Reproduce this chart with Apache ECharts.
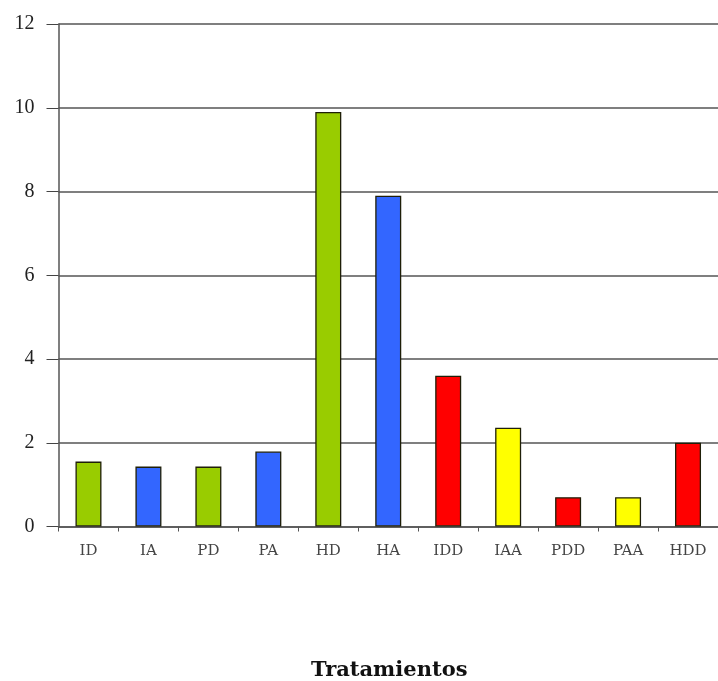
<!DOCTYPE html>
<html><head><meta charset="utf-8">
<script src="https://cdn.jsdelivr.net/npm/echarts@6/dist/echarts.min.js"></script>
<style>html,body{margin:0;padding:0;background:#fff}#c{width:718px;height:681px}</style>
</head><body><div id="c"></div>
<script>
const categories = ['ID','IA','PD','PA','HD','HA','IDD','IAA','PDD','PAA','HDD'];
const values = [1.55, 1.43, 1.43, 1.79, 9.9, 7.9, 3.6, 2.36, 0.7, 0.7, 2.0];
const barColors = ['#99cc00','#3366ff','#99cc00','#3366ff','#99cc00','#3366ff','#ff0000','#ffff00','#ff0000','#ffff00','#ff0000'];
const yTicks = [0, 2, 4, 6, 8, 10, 12];
const xTitle = 'Tratamientos';

const chart = echarts.init(document.getElementById('c'), null, {renderer:'canvas'});
chart.setOption({
  animation: false,
  backgroundColor: '#fff',
  grid: {left: 58.5, right: 0, top: 24, bottom: 154.5, containLabel: false, outerBoundsMode: 'none'},
  xAxis: {
    type: 'category', data: categories,
    axisLine: {lineStyle: {color: '#555', width: 1.5}},
    axisTick: {show: true, alignWithLabel: false, length: 5, lineStyle: {color: '#555'}},
    axisLabel: {fontFamily: 'DejaVu Serif', fontSize: 15, color: '#444', margin: 17},
    name: xTitle, nameLocation: 'middle', nameGap: 134,
    nameTextStyle: {fontFamily: 'DejaVu Serif', fontSize: 21, fontWeight: 'bold', color: '#111', padding: [0,0,0,2]}
  },
  yAxis: {
    type: 'value', min: yTicks[0], max: yTicks[yTicks.length-1], interval: 2,
    axisLine: {show: true, lineStyle: {color: '#555', width: 1.5}},
    axisTick: {show: true, length: 12, lineStyle: {color: '#444'}},
    axisLabel: {fontFamily: 'Liberation Serif', fontSize: 20, color: '#222', margin: 24},
    splitLine: {show: true, lineStyle: {color: '#555', width: 1.5}}
  },
  series: [{
    type: 'bar',
    barWidth: 26,
    data: values.map((v,i) => ({value: v, itemStyle: {color: barColors[i]}})),
    itemStyle: {borderColor: '#1f1f08', borderWidth: 1.3}
  }]
});
</script></body></html>
